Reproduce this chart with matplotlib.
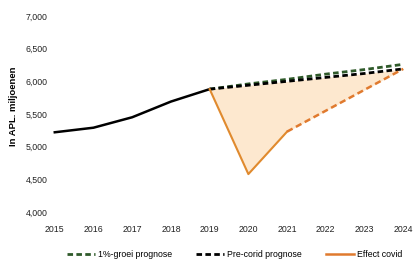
import matplotlib.pyplot as plt
from matplotlib.lines import Line2D

plt.rcParams['font.family'] = ['Liberation Sans', 'DejaVu Sans']

years = [2015, 2016, 2017, 2018, 2019]
actual = [5220, 5290, 5450, 5690, 5880]

prog_years = [2019, 2020, 2021, 2022, 2023, 2024]
groei = [5880, 5960, 6030, 6110, 6180, 6260]
precovid = [5880, 5940, 6000, 6060, 6120, 6190]

covid_years = [2019, 2020, 2021]
covid = [5880, 4580, 5230]
herstel_years = [2021, 2022, 2023, 2024]
herstel = [5230, 5550, 5870, 6190]

fig = plt.figure(figsize=(4.15, 2.66), dpi=100)
ax = fig.add_axes([0.118, 0.203, 0.863, 0.737])

effect = covid + herstel[1:]
ax.fill_between(prog_years, precovid, effect, color='#fde8cf', lw=0)
ax.plot(years, actual, color='black', lw=1.8)
ax.plot(prog_years, groei, color='#2f5a2a', lw=2, ls=(0, (2, 1.2)))
ax.plot(prog_years, precovid, color='black', lw=2, ls=(0, (2, 1.2)))
ax.plot(covid_years, covid, color='#e08a2e', lw=1.5)
ax.plot(herstel_years, herstel, color='#e07a2e', lw=1.8, ls=(0, (2.5, 1.5)))

ax.set_xlim(2014.85, 2024.1)
ax.set_ylim(4000, 7000)
ax.set_xticks(range(2015, 2025))
ax.set_yticks(range(4000, 7001, 500))
ax.set_yticklabels([f'{v:,}' for v in range(4000, 7001, 500)])
ax.tick_params(length=0, labelsize=6.3, colors='#222222')
ax.tick_params(axis='x', pad=9)
ax.tick_params(axis='y', pad=1)
for s in ax.spines.values():
    s.set_visible(False)
fig.text(0.032, 0.6, 'In APL. miljoenen', rotation=90, ha='center', va='center',
         fontsize=6.8, fontweight='bold')

handles = [
    Line2D([], [], color='#2f5a2a', lw=2, ls=(0, (2, 1.2))),
    Line2D([], [], color='black', lw=2, ls=(0, (2, 1.2))),
    Line2D([], [], color='#e07a2e', lw=1.8),
]
fig.legend(handles, ['1%-groei prognose', 'Pre-corid prognose', 'Effect covid'],
           loc='lower center', bbox_to_anchor=(0.565, -0.005), ncol=3, frameon=False,
           fontsize=6.3, handlelength=3.2, columnspacing=2.8, handletextpad=0.3)

fig.savefig('out.png', dpi=100)
